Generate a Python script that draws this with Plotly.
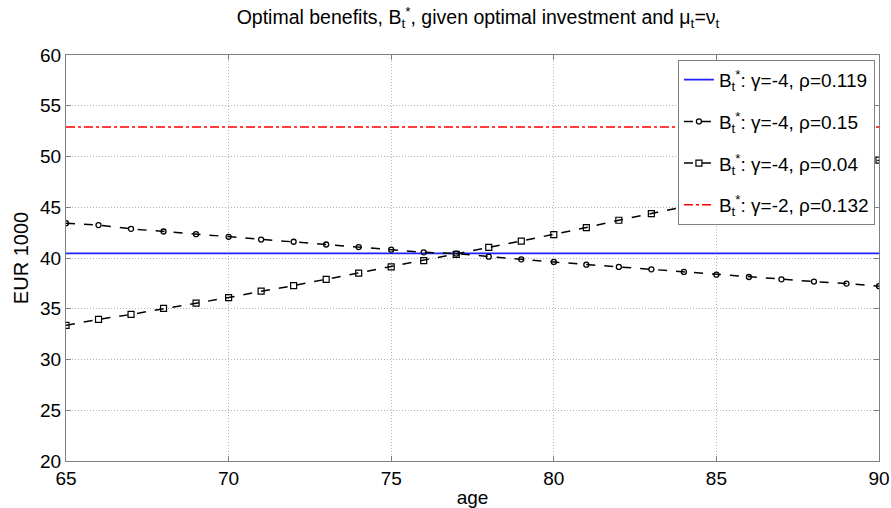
import plotly.graph_objects as go

# Ages on the horizontal axis (one point per year)
ages = list(range(65, 91))

# Optimal benefits B_t* (EUR 1000) for each parameter set
benefit_g4_r0119 = [40.45] * len(ages)
benefit_g4_r015 = [43.43, 43.24, 42.87, 42.61, 42.35, 42.09, 41.82, 41.60, 41.33, 41.08,
                   40.82, 40.56, 40.43, 40.13, 39.87, 39.61, 39.34, 39.12, 38.88, 38.63,
                   38.36, 38.13, 37.90, 37.68, 37.48, 37.22]
benefit_g4_r004 = [33.37, 33.95, 34.44, 35.03, 35.55, 36.10, 36.73, 37.28, 37.90, 38.50,
                   39.12, 39.74, 40.35, 41.04, 41.67, 42.31, 43.00, 43.72, 44.37, 45.05,
                   45.76, 46.49, 47.24, 48.02, 48.82, 49.64]
benefit_g2_r0132 = [52.9] * len(ages)

legend_names = [
    "B<sub>t</sub><sup>*</sup>: γ=-4, ρ=0.119",
    "B<sub>t</sub><sup>*</sup>: γ=-4, ρ=0.15",
    "B<sub>t</sub><sup>*</sup>: γ=-4, ρ=0.04",
    "B<sub>t</sub><sup>*</sup>: γ=-2, ρ=0.132",
]

x_ticks = [65, 70, 75, 80, 85, 90]
y_ticks = [20, 25, 30, 35, 40, 45, 50, 55, 60]

font_family = "Liberation Sans, Arial, sans-serif"

fig = go.Figure()

fig.add_trace(go.Scatter(
    x=ages, y=benefit_g4_r0119, mode="lines", name=legend_names[0], legendgroup="a",
    line=dict(color="#1f1fff", width=1.8),
))
fig.add_trace(go.Scatter(
    x=ages, y=benefit_g4_r015, mode="lines+markers", name=legend_names[1], legendgroup="b",
    line=dict(color="black", width=1.5, dash="dash"),
    marker=dict(symbol="circle-open", size=5, color="black", line=dict(width=1.3)),
))
fig.add_trace(go.Scatter(
    x=ages, y=benefit_g4_r004, mode="lines+markers", name=legend_names[2], legendgroup="c",
    line=dict(color="black", width=1.5, dash="dash"),
    marker=dict(symbol="square-open", size=6, color="black", line=dict(width=1.2)),
))
fig.add_trace(go.Scatter(
    x=ages, y=benefit_g2_r0132, mode="lines", name=legend_names[3], legendgroup="d",
    line=dict(color="#ff0000", width=1.5, dash="dashdot"),
))

axis_common = dict(
    showline=True, linecolor="#808080", linewidth=1, mirror="ticks",
    ticks="inside", ticklen=5, tickcolor="#808080",
    showgrid=True, gridcolor="#b4b4b4", griddash="1px,2px", gridwidth=1,
    zeroline=False, automargin=False,
    tickfont=dict(family=font_family, size=19, color="black"),
)

fig.update_xaxes(
    range=[65, 90], tickvals=x_ticks,
    title=dict(text="age", font=dict(family=font_family, size=19, color="black"), standoff=3),
    **axis_common,
)
fig.update_yaxes(
    range=[20, 60], tickvals=y_ticks,
    title=dict(text="EUR 1000", font=dict(family=font_family, size=20, color="black"), standoff=6),
    **axis_common,
)

fig.update_layout(
    width=891, height=508,
    margin=dict(l=66, r=12, t=55, b=47),
    paper_bgcolor="white", plot_bgcolor="white",
    title=dict(
        text="Optimal benefits, B<sub>t</sub><sup>*</sup>, given optimal investment and μ<sub>t</sub>=ν<sub>t</sub>",
        font=dict(family=font_family, size=19.5, color="black"),
        x=478 / 891, xanchor="center", y=0.966, yanchor="middle",
    ),
    legend=dict(
        x=0.995, y=0.988, xanchor="right", yanchor="top",
        bgcolor="white", bordercolor="#808080", borderwidth=1,
        font=dict(family=font_family, size=19, color="black"),
        itemwidth=30, tracegroupgap=14, traceorder="grouped",
    ),
    showlegend=True,
)

fig.write_html("out.html")
